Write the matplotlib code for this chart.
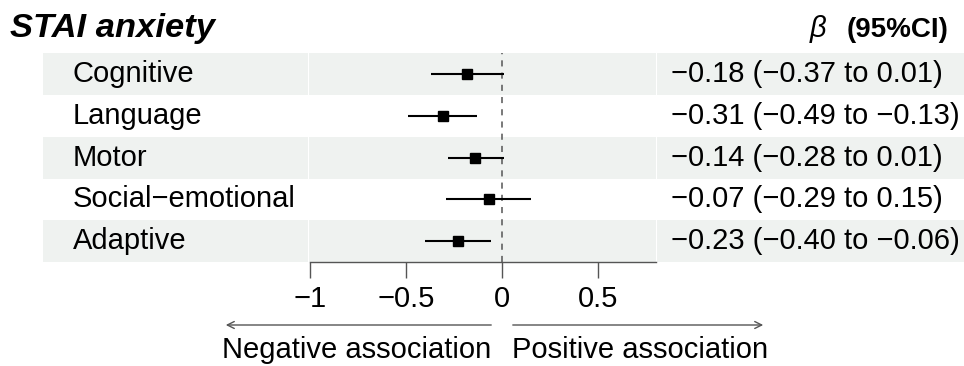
import numpy as np
import matplotlib.pyplot as plt
import matplotlib.transforms as mtransforms
from matplotlib.patches import Rectangle

plt.rcParams['font.family'] = ['Liberation Sans', 'DejaVu Sans']

# data
labels = ['Cognitive', 'Language', 'Motor', 'Social\u2212emotional', 'Adaptive']
est = [-0.18, -0.31, -0.14, -0.07, -0.23]
lo = [-0.37, -0.49, -0.28, -0.29, -0.40]
hi = [0.01, -0.13, 0.01, 0.15, -0.06]
ci_text = ['\u22120.18 (\u22120.37 to 0.01)',
           '\u22120.31 (\u22120.49 to \u22120.13)',
           '\u22120.14 (\u22120.28 to 0.01)',
           '\u22120.07 (\u22120.29 to 0.15)',
           '\u22120.23 (\u22120.40 to \u22120.06)']
ticks = [-1, -0.5, 0, 0.5]
tick_labels = ['\u22121', '\u22120.5', '0', '0.5']

W, H = 964, 366
BAND = '#eff2f0'
GREY = '#555555'
FS = 21

fig = plt.figure(figsize=(W / 100, H / 100), dpi=100)
ax = fig.add_axes([310 / W, 1 - 262 / H, (655.7 - 310) / W, (262 - 53.3) / H])
ax.set_xlim(-1, 0.8)
ax.set_ylim(len(labels) + 0.5, 0.5)
ax.patch.set_alpha(0)

rows = np.arange(1, len(labels) + 1)
blend = mtransforms.blended_transform_factory(fig.transFigure, ax.transData)

# zebra bands, split in three panels
for r in rows[::2]:
    for x0, x1 in [(43, 308), (309, 655.5), (656.5, 964)]:
        ax.add_patch(Rectangle((x0 / W, r - 0.5), (x1 - x0) / W, 1, transform=blend,
                               facecolor=BAND, edgecolor='none', zorder=0, clip_on=False))

ax.axvline(0, color=GREY, lw=1.1, ls=(0, (4, 4)), zorder=1)
ax.hlines(rows, lo, hi, color='black', lw=1.5, zorder=2)
ax.plot(est, rows, 's', color='black', ms=6.5, zorder=3)

for r, lab, txt in zip(rows, labels, ci_text):
    ax.text(73 / W, r, lab, transform=blend, ha='left', va='center', fontsize=FS)
    ax.text(671 / W, r, txt, transform=blend, ha='left', va='center', fontsize=FS)

for s in ['top', 'left', 'right']:
    ax.spines[s].set_visible(False)
ax.spines['bottom'].set_color(GREY)
ax.spines['bottom'].set_linewidth(1)
ax.set_yticks([])
ax.set_xticks(ticks)
ax.set_xticklabels(tick_labels, fontsize=FS)
ax.tick_params(axis='x', length=11.5, width=1, color=GREY, pad=5)

# header
fig.text(10 / W, 1 - 29 / H, 'STAI anxiety', fontsize=24.8, fontweight='bold',
         fontstyle='italic', ha='left', va='center')
fig.text(948 / W, 1 - 30 / H, '(95%CI)', fontsize=20, fontweight='bold',
         ha='right', va='center')
fig.text(826 / W, 1 - 29 / H, '\u03b2', fontsize=21, fontstyle='italic',
         ha='right', va='center')

# direction arrows
ya = 1 - 325 / H
ax.annotate('', xy=(223 / W, ya), xytext=(494 / W, ya), xycoords='figure fraction',
            arrowprops=dict(arrowstyle='->,head_length=0.5,head_width=0.25', color=GREY, lw=1))
ax.annotate('', xy=(766 / W, ya), xytext=(510 / W, ya), xycoords='figure fraction',
            arrowprops=dict(arrowstyle='->,head_length=0.5,head_width=0.25', color=GREY, lw=1))
fig.text(491 / W, 1 - 350 / H, 'Negative association', fontsize=FS, ha='right', va='center')
fig.text(512 / W, 1 - 350 / H, 'Positive association', fontsize=FS, ha='left', va='center')

fig.savefig('out.png', dpi=100)
